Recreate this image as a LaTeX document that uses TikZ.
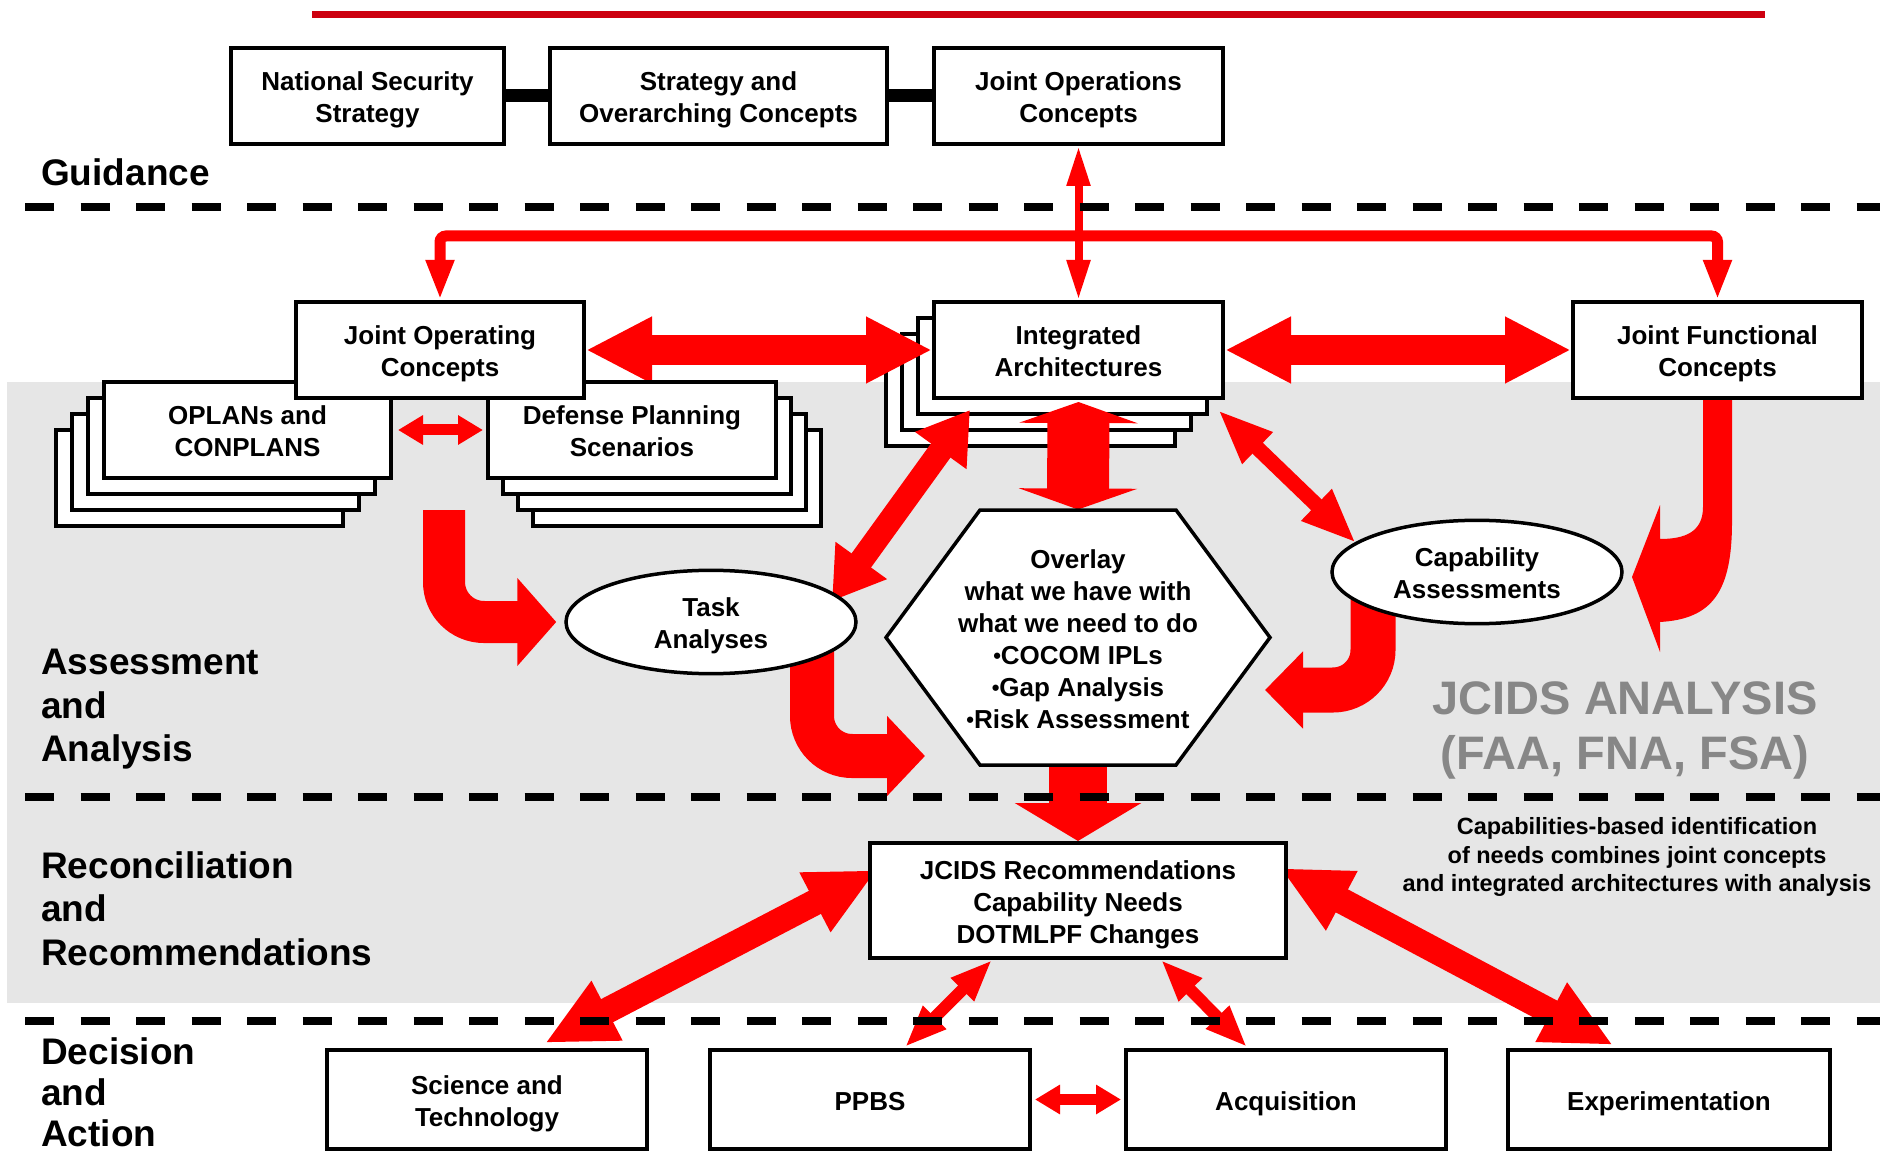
\documentclass[tikz,border=0pt]{standalone}
\usepackage{fontspec}
\setmainfont{Liberation Sans}
\usetikzlibrary{arrows.meta,calc,shapes.geometric}
\definecolor{arrred}{RGB}{255,0,0}
\definecolor{topred}{RGB}{205,0,15}
\definecolor{bggray}{RGB}{230,230,230}
\definecolor{txtgray}{RGB}{135,135,135}
\newcommand{\bxf}{\bfseries\fontsize{26}{32}\selectfont}
\newcommand{\secf}{\bfseries\fontsize{37}{43.5}\selectfont}
\newcommand{\secfb}{\bfseries\fontsize{37}{41}\selectfont}
\newcommand{\capf}{\bfseries\fontsize{23.5}{28.5}\selectfont}
\newcommand{\bigf}{\bfseries\fontsize{47}{55}\selectfont}
\newcommand{\smbul}{\raisebox{1pt}{\fontsize{22}{22}\selectfont •}}
\newcommand{\bt}[1]{\begin{tabular}{@{}c@{}}\rule{0pt}{31.5pt}#1\end{tabular}}
\pgfdeclarelayer{bglayer}
\pgfdeclarelayer{arrlayer}
\pgfsetlayers{bglayer,arrlayer,main}
\tikzset{
  box/.style={draw=black, line width=4pt, fill=white, inner sep=0pt, font=\bxf},
  stackbox/.style={draw=black, line width=4pt, fill=white},
  oval/.style={ellipse, draw=black, line width=3.5pt, fill=white, inner sep=0pt, font=\bxf},
  seclab/.style={anchor=north west, align=left, inner sep=0pt, font=\secf},
  dblarr/.style n args={3}{draw=arrred, line width=#1pt, {Triangle[length=#2pt,width=#3pt]}-{Triangle[length=#2pt,width=#3pt]}},
  sglarr/.style n args={3}{draw=arrred, line width=#1pt, -{Triangle[length=#2pt,width=#3pt]}},
  sepline/.style={draw=black, line width=8pt, dash pattern=on 29pt off 26.5pt},
}
\begin{document}
\begin{tikzpicture}[x=1pt, y=-1pt]
\useasboundingbox (0,0) rectangle (1880,1155);

% centres of stacked boxes
\coordinate (opC) at (247.5,430);
\coordinate (dpC) at (632,430);
\coordinate (iaC) at (1078.5,350);

\begin{pgfonlayer}{bglayer}
\fill[white] (0,0) rectangle (1880,1155);
\fill[bggray] (7,382) rectangle (1880,1003);
\foreach \k in {3,2,1}{
  \draw[stackbox] ($(opC)+(-143.5-16*\k,-48+16*\k)$) rectangle ($(opC)+(143.5-16*\k,48+16*\k)$);
  \draw[stackbox] ($(dpC)+(-144+15*\k,-48+16*\k)$) rectangle ($(dpC)+(144+15*\k,48+16*\k)$);
  \draw[stackbox] ($(iaC)+(-144.5-16*\k,-48+16*\k)$) rectangle ($(iaC)+(144.5-16*\k,48+16*\k)$);
}
\end{pgfonlayer}

% top red rule
\coordinate (tr1) at (312,15);
\coordinate (tr2) at (1765,15);
\draw[topred, line width=7pt] (tr1) -- (tr2);

% guidance boxes
\node[box, minimum width=273pt, minimum height=96pt] (nss) at (367.5,96) {\bt{National Security\\Strategy}};
\node[box, minimum width=337pt, minimum height=96pt] (soc) at (718.5,96) {\bt{Strategy and\\Overarching Concepts}};
\node[box, minimum width=289pt, minimum height=96pt] (jopsc) at (1078.5,96) {\bt{Joint Operations\\Concepts}};
\draw[line width=13pt] (nss.east) -- (soc.west);
\draw[line width=13pt] (soc.east) -- (jopsc.west);

% second row
\node[box, minimum width=287pt, minimum height=96pt] (oplans) at (opC) {\bt{OPLANs and\\CONPLANS}};
\node[box, minimum width=288pt, minimum height=96pt] (dps) at (dpC) {\bt{Defense Planning\\Scenarios}};
\node[box, minimum width=288pt, minimum height=96pt] (joc) at (440,350) {\bt{Joint Operating\\Concepts}};
\node[box, minimum width=289pt, minimum height=96pt] (ia) at (iaC) {\bt{Integrated\\Architectures}};
\node[box, minimum width=289pt, minimum height=96pt] (jfc) at (1717.5,350) {\bt{Joint Functional\\Concepts}};

% ellipses
\node[oval, minimum width=290pt, minimum height=96pt] (ta) at (711,622) {\bt{Task\\Analyses}};
\node[oval, minimum width=290pt, minimum height=94pt] (ca) at (1477,572) {\bt{Capability\\Assessments}};

% hexagon
\coordinate (hexC) at (1078,637.5);
\filldraw[fill=white, draw=black, line width=3.5pt] ($(hexC)+(-98,-127.5)$) -- ($(hexC)+(98,-127.5)$) -- ($(hexC)+(192,0)$) -- ($(hexC)+(98,127.5)$) -- ($(hexC)+(-98,127.5)$) -- ($(hexC)+(-192,0)$) -- cycle;
\node[font=\bxf, inner sep=0pt] (hex) at (hexC) {\bt{Overlay\\what we have with\\what we need to do\\\smbul COCOM IPLs\\\smbul Gap Analysis\\\smbul Risk Assessment}};

% recommendations
\node[box, minimum width=416pt, minimum height=115pt] (jcids) at (1078,900.5) {\bt{JCIDS Recommendations\\Capability Needs\\DOTMLPF Changes}};

% decision boxes
\node[box, minimum width=320pt, minimum height=99pt] (st) at (487,1099.5) {\bt{Science and\\Technology}};
\node[box, minimum width=320pt, minimum height=99pt] (ppbs) at (870,1099.5) {\bt{PPBS}};
\node[box, minimum width=320pt, minimum height=99pt] (acq) at (1286,1099.5) {\bt{Acquisition}};
\node[box, minimum width=322pt, minimum height=99pt] (exp) at (1669,1099.5) {\bt{Experimentation}};

% red arrows
\coordinate (a11s) at (444,510);
\begin{pgfonlayer}{arrlayer}
\draw[dblarr={8}{40}{22}] (jopsc.south) -- (ia.north);
\draw[dblarr={11}{40}{26}, rounded corners=6pt] (joc.north) -- ++(0,-64) -| (jfc.north);
\draw[dblarr={30}{66}{62}] (joc.east) -- (ia.west);
\draw[dblarr={30}{66}{62}] (ia.east) -- (jfc.west);
\draw[dblarr={11}{25}{28}, shorten <=5pt, shorten >=3pt] (oplans.east) -- (dps.west);
\draw[dblarr={11}{25}{28}, shorten <=3pt, shorten >=3pt] (ppbs.east) -- (acq.west);
\draw[dblarr={24}{50}{60}] ($(ia.center)+(-108.5,60)$) -- ($(ta.center)+(121,-21)$);
\draw[dblarr={15}{55}{40}] ($(ia.center)+(139.5,60)$) -- ($(ca.center)+(-121,-29)$);
\draw[dblarr={62}{21}{118}] ($(ia.south)+(0,2)$) -- ($(hex.center)+(0,-128)$);
\draw[sglarr={58}{38}{125}] ($(hex.center)+(0,127.5)$) -- (jcids.north);
\draw[sglarr={42}{39}{86}] (a11s) -- ++(0,72) arc[start angle=180, end angle=270, radius=40pt] -- ($(ta.west)+(-8,0)$);
\draw[sglarr={44}{38}{78}] ($(ta.center)+(101,18)$) -- ++(0,76) arc[start angle=180, end angle=270, radius=40pt] -- ($(hex.center)+(-153,118.5)$);
\draw[sglarr={45}{38}{75}] ($(ca.center)+(-104,25)$) -- ++(0,53) arc[start angle=0, end angle=-90, radius=40pt] -- ($(hex.center)+(187,52.5)$);
\begin{scope}[shift={(jfc.south)}]
\fill[arrred] (-14.5,-2) -- (14.5,-2) -- (14.5,122) .. controls (14.5,192) and (-5.5,219) .. (-57.5,222) -- (-57.5,252) -- (-85.5,177) -- (-57.5,105) -- (-57.5,139) .. controls (-32.5,139) and (-14.5,132) .. (-14.5,107) -- cycle;
\end{scope}
\draw[dblarr={26}{70}{62}] ($(st.center)+(58,-56.5)$) -- ($(jcids.center)+(-201,-30.5)$);
\draw[dblarr={12}{42}{30}] ($(jcids.center)+(-86,59.5)$) -- ($(ppbs.center)+(35,-52.5)$);
\draw[dblarr={12}{42}{30}] ($(jcids.center)+(83,59.5)$) -- ($(acq.center)+(-39,-52.5)$);
\draw[dblarr={26}{70}{62}] ($(jcids.center)+(202,-32.5)$) -- ($(exp.center)+(-56,-54.5)$);
\end{pgfonlayer}

% section separators
\coordinate (s1a) at (25,207.5);  \coordinate (s1b) at (1880,207.5);
\coordinate (s2a) at (25,797);    \coordinate (s2b) at (1880,797);
\coordinate (s3a) at (25,1020.5); \coordinate (s3b) at (1880,1020.5);
\draw[sepline] (s1a) -- (s1b);
\draw[sepline] (s2a) -- (s2b);
\draw[sepline] (s3a) -- (s3b);

% section labels
\node[seclab] (lguid) at (41,158) {Guidance};
\node[seclab] (lass) at (41,649) {Assessment\\and\\Analysis};
\node[seclab] (lrec) at (41,851) {Reconciliation\\and\\Recommendations};
\node[seclab, font=\secfb] (ldec) at (41,1037) {Decision\\and\\Action};

% other texts
\node[font=\bigf, text=txtgray, align=center, inner sep=0pt] (jan) at (1625,730) {JCIDS ANALYSIS\\(FAA, FNA, FSA)};
\node[font=\capf, align=center, inner sep=0pt] (capt) at (1637,857) {Capabilities-based identification\\of needs combines joint concepts\\and integrated architectures with analysis};
\end{tikzpicture}
\end{document}
